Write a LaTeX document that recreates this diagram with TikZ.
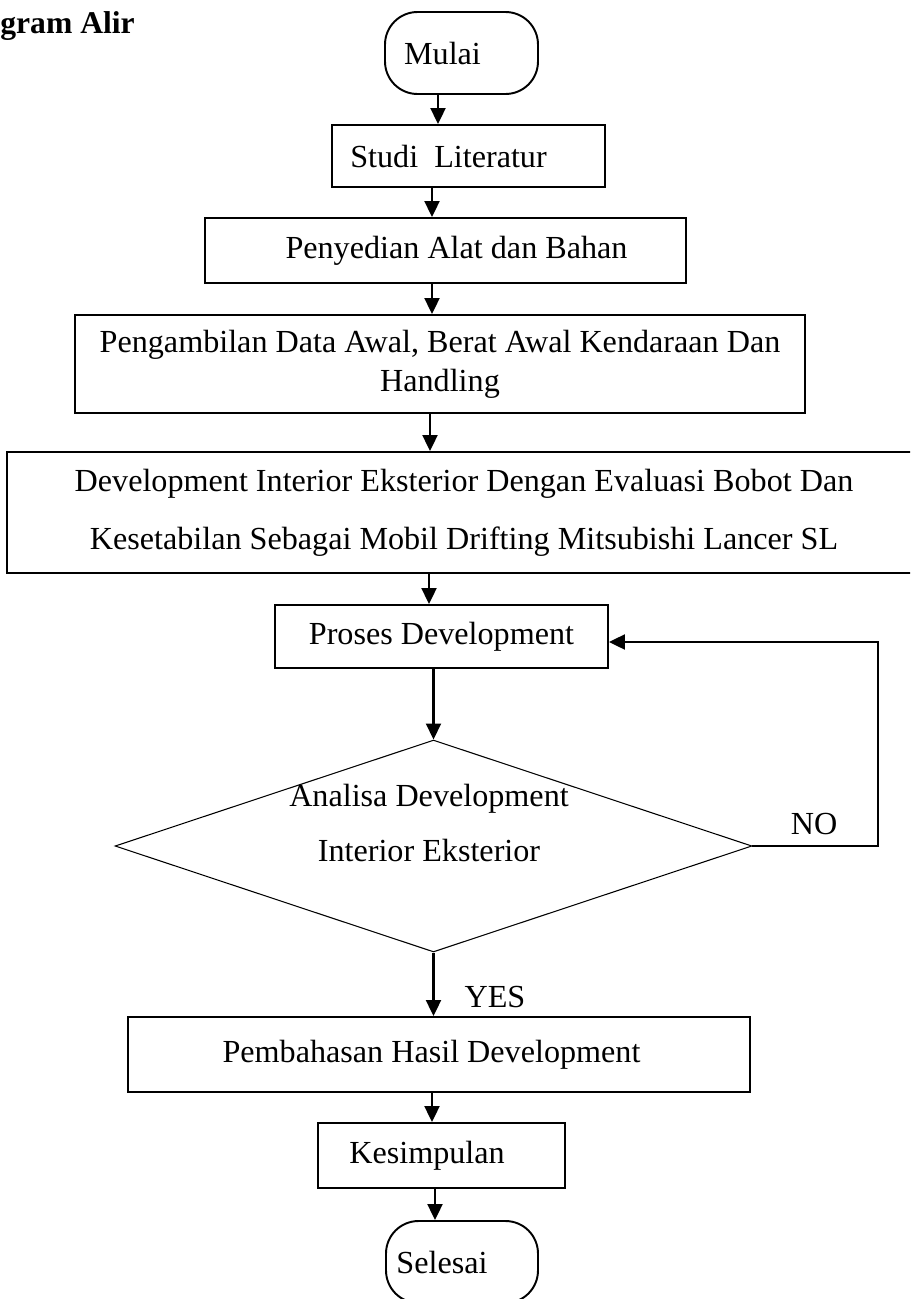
\documentclass[tikz,border=0pt]{standalone}
\usepackage{fontspec}
\setmainfont{Liberation Serif}
\usetikzlibrary{positioning,shapes.geometric,arrows.meta}

\tikzset{
  boks/.style={draw, line width=1.1pt, rectangle, inner sep=0pt, align=center},
  terminal/.style={draw, line width=1.1pt, rounded corners=0.65cm, inner sep=0pt},
  keputusan/.style={draw, diamond, aspect=3, inner sep=0pt, line width=0.6pt},
  panah/.style={->, line width=1.2pt}
}

\begin{document}
\begin{tikzpicture}[x=0.02cm, y=-0.02cm, font=\fontsize{18.3}{22}\selectfont,
    >={Triangle[length=0.32cm,width=0.3cm]}]
	\useasboundingbox (0,0) rectangle (910,1299);
	\clip (0,0) rectangle (910,1299);

	\node[anchor=base west, inner sep=0pt, font=\fontsize{18}{22}\selectfont\bfseries] (judul) at (0,33) {gram Alir};

	\node[terminal, minimum width=3.06cm, minimum height=1.64cm] (mulai) at (461.5,53) {Mulai\hspace*{0.76cm}};
	\node[boks, minimum width=5.46cm, minimum height=1.24cm] (studi) at (468.5,156) {Studi\ \ Literatur\hspace*{0.8cm}};
	\node[boks, minimum width=9.62cm, minimum height=1.3cm] (penyedian) at (445.5,250.5) {\hspace*{0.44cm}Penyedian Alat dan Bahan};
	\node[boks, minimum width=14.6cm, minimum height=1.96cm] (pengambilan) at (440,364)
		{Pengambilan Data Awal, Berat Awal Kendaraan Dan\\Handling};
	\node[boks, minimum width=18.28cm, minimum height=2.42cm, font=\fontsize{18.3}{33}\selectfont] (development) at (464,512.5)
		{Development Interior Eksterior Dengan Evaluasi Bobot Dan\\Kesetabilan Sebagai Mobil Drifting Mitsubishi Lancer SL};
	\node[boks, minimum width=6.66cm, minimum height=1.26cm] (proses) at (441.5,636.5) {Proses Development};
	\node[keputusan, minimum width=12.74cm, minimum height=4.24cm] (analisa) at (433.5,846) {};
	\node[align=center, font=\fontsize{18.3}{31}\selectfont] (analisaTeks) at (429,823) {Analisa Development\\Interior Eksterior};
	\node[boks, minimum width=12.44cm, minimum height=1.5cm] (pembahasan) at (439,1054.5) {Pembahasan Hasil Development\hspace*{0.3cm}};
	\node[boks, minimum width=4.94cm, minimum height=1.3cm] (kesimpulan) at (441.5,1155.5) {Kesimpulan\hspace*{0.58cm}};
	\node[terminal, minimum width=3.04cm, minimum height=1.64cm] (selesai) at (462,1262) {Selesai\hspace*{0.8cm}};

	\node (no) at (814,824) {NO};
	\node (yes) at (495,997) {YES};
	\coordinate (balik) at (878,846);

	% alur utama
	\draw[panah] ([xshift=-0.47cm]mulai.south) -- ([xshift=-0.47cm]mulai.south |- studi.north);
	\draw[panah] ([xshift=-0.73cm]studi.south) -- ([xshift=-0.73cm]studi.south |- penyedian.north);
	\draw[panah] ([xshift=-0.27cm]penyedian.south) -- ([xshift=-0.27cm]penyedian.south |- pengambilan.north);
	\draw[panah] ([xshift=-0.2cm]pengambilan.south) -- ([xshift=-0.2cm]pengambilan.south |- development.north);
	\draw[panah] ([xshift=-0.7cm]development.south) -- ([xshift=-0.7cm]development.south |- proses.north);
	\draw[panah] (proses.south -| analisa.north) -- (analisa.north);
	\draw[panah] (analisa.south) -- (analisa.south |- pembahasan.north);
	\draw[panah] ([xshift=-0.14cm]pembahasan.south) -- ([xshift=-0.14cm]pembahasan.south |- kesimpulan.north);
	\draw[panah] ([xshift=-0.13cm]kesimpulan.south) -- ([xshift=-0.13cm]kesimpulan.south |- selesai.north);

	% kembali jika NO
	\draw[panah] (analisa.east) -- (balik) |- ([yshift=-0.11cm]proses.east);
\end{tikzpicture}
\end{document}
